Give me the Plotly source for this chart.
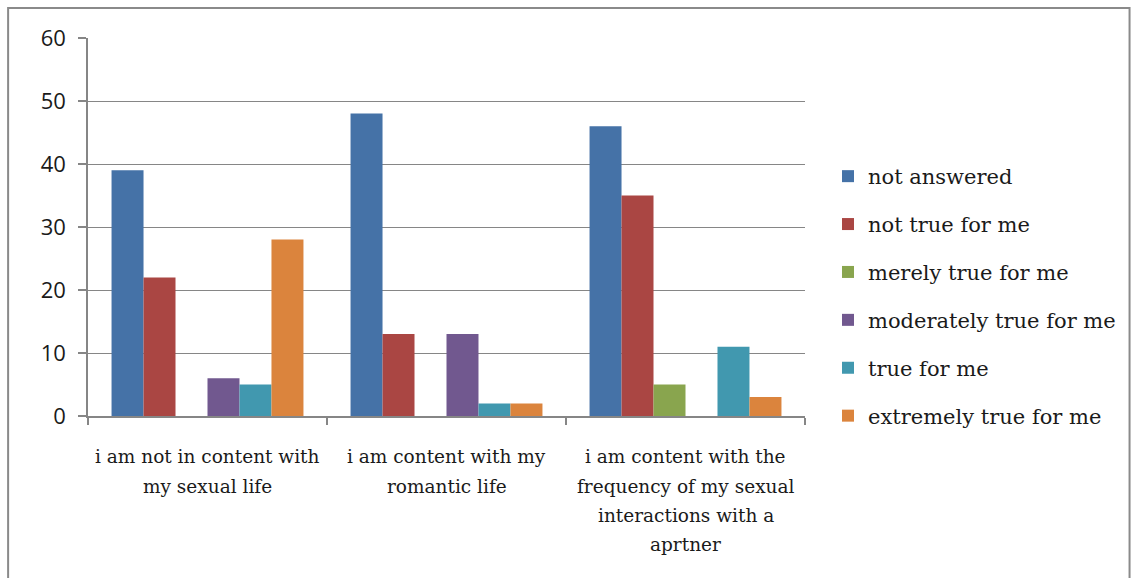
import plotly.graph_objects as go

categories = [
    "i am not in content with<br>my sexual life",
    "i am content with my<br>romantic life",
    "i am content with the<br>frequency of my sexual<br>interactions with a<br>aprtner",
]
series_names = [
    "not answered",
    "not true for me",
    "merely true for me",
    "moderately true for me",
    "true for me",
    "extremely true for me",
]
not_answered = [39, 48, 46]
not_true = [22, 13, 35]
merely_true = [0, 0, 5]
moderately_true = [6, 13, 0]
true_for_me = [5, 2, 11]
extremely_true = [28, 2, 3]
values = [not_answered, not_true, merely_true, moderately_true, true_for_me, extremely_true]
colors = ["#4572A7", "#AA4643", "#89A54E", "#71588F", "#4198AF", "#DB843D"]
y_ticks = [0, 10, 20, 30, 40, 50, 60]

SERIF = "DejaVu Serif"

fig = go.Figure()
for i, (name, vals, col) in enumerate(zip(series_names, values, colors)):
    fig.add_trace(go.Bar(
        x=categories, y=vals, name=name,
        marker=dict(color=col, line=dict(width=0)),
        legendgroup=f"g{i}",
    ))

W, H = 1132, 578
L, R, T, B = 88, 806, 38, 416
pw, ph = R - L, B - T

def px(x):
    return (x - L) / pw

def py(y):
    return (B - y) / ph

# category labels, one line per annotation for Excel-like line spacing
annotations = []
for cat in categories:
    for j, line in enumerate(cat.split("<br>")):
        annotations.append(dict(
            x=cat, xref="x", y=py(457 + 29 * j), yref="paper",
            text=line, showarrow=False, xanchor="center", yanchor="middle",
            font=dict(family=SERIF, size=18.5, color="#1a1a1a"),
        ))

fig.update_layout(
    width=W, height=H,
    margin=dict(l=L, r=W - R, t=T, b=H - B),
    paper_bgcolor="white", plot_bgcolor="white",
    barmode="group", bargap=0.197, bargroupgap=0,
    showlegend=True,
    legend=dict(
        x=px(828), y=py(156), xanchor="left", yanchor="top",
        font=dict(family=SERIF, size=21, color="#1a1a1a"),
        traceorder="grouped", tracegroupgap=17.6,
        bgcolor="rgba(0,0,0,0)",
    ),
    xaxis=dict(
        showline=True, linecolor="#868686", linewidth=1.5,
        ticks="outside", ticklen=7, tickcolor="#868686", tickwidth=1.5,
        tickson="boundaries", showticklabels=False,
        showgrid=False,
    ),
    yaxis=dict(
        range=[0, 60], tickvals=y_ticks,
        showline=True, linecolor="#868686", linewidth=1.5,
        ticks="outside", ticklen=8, tickcolor="#868686", tickwidth=1.5,
        showgrid=True, gridcolor="#868686", gridwidth=1,
        tickfont=dict(family="Open Sans", size=22, color="#1a1a1a"),
        ticklabelstandoff=8,
        zeroline=False,
    ),
    annotations=annotations,
    shapes=[dict(
        type="rect", xref="paper", yref="paper",
        x0=px(8), x1=px(1131), y0=py(590), y1=py(8),
        line=dict(color="#8a8a8a", width=2), fillcolor="rgba(0,0,0,0)",
        layer="below",
    )],
)

fig.write_html("out.html")
